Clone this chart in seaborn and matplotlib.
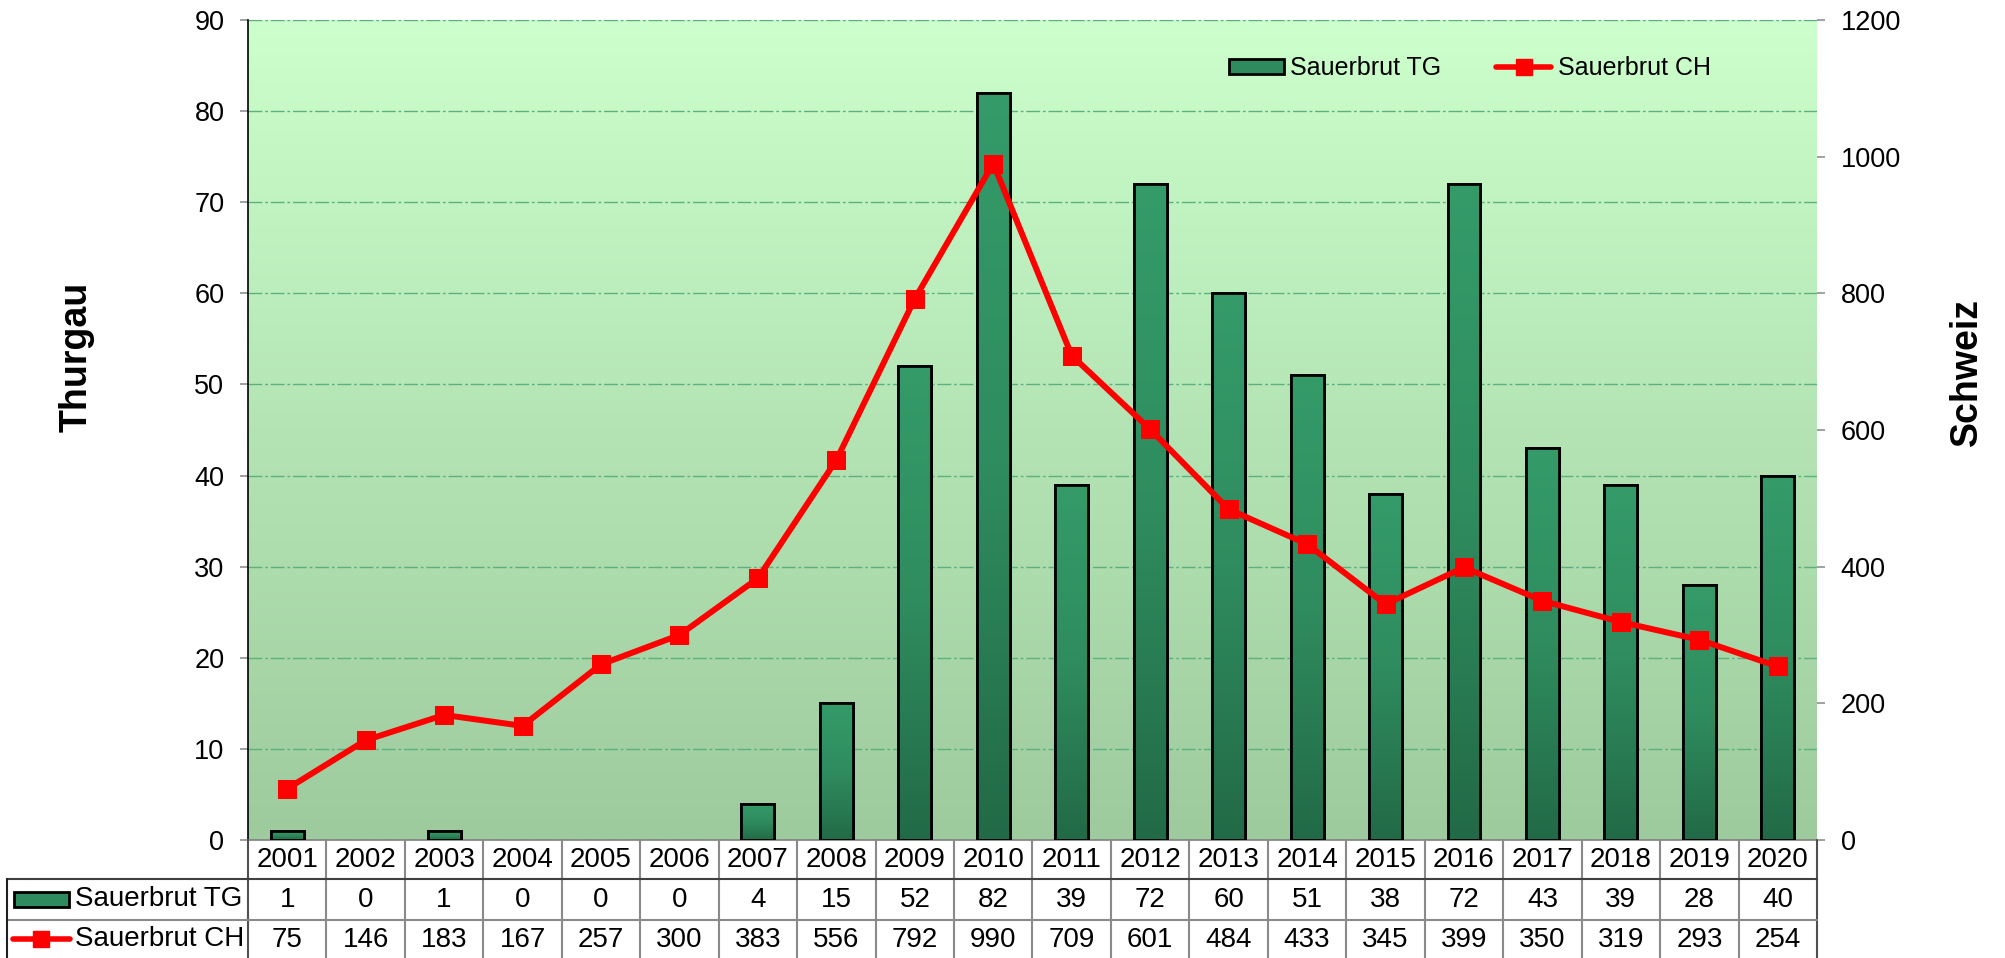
import numpy as np
import pandas as pd
import matplotlib
matplotlib.use("Agg")
import matplotlib.pyplot as plt
import seaborn as sns
from matplotlib.colors import LinearSegmentedColormap
from matplotlib.lines import Line2D
from matplotlib.patches import Patch, Rectangle

# ---------------- data ----------------
years = ["2001", "2002", "2003", "2004", "2005", "2006", "2007", "2008", "2009", "2010",
         "2011", "2012", "2013", "2014", "2015", "2016", "2017", "2018", "2019", "2020"]
tg_values = [1, 0, 1, 0, 0, 0, 4, 15, 52, 82, 39, 72, 60, 51, 38, 72, 43, 39, 28, 40]
ch_values = [75, 146, 183, 167, 257, 300, 383, 556, 792, 990, 709, 601, 484, 433, 345,
             399, 350, 319, 293, 254]
series_tg = "Sauerbrut TG"
series_ch = "Sauerbrut CH"
left_label = "Thurgau"
right_label = "Schweiz"
left_ticks = [0, 10, 20, 30, 40, 50, 60, 70, 80, 90]
right_ticks = [0, 200, 400, 600, 800, 1000, 1200]

# ---------------- style ----------------
sns.set_theme(style="white")
plt.rcParams["font.family"] = ["Liberation Sans", "DejaVu Sans"]
plt.rcParams["text.color"] = "black"
plt.rcParams["axes.labelcolor"] = "black"
plt.rcParams["ytick.color"] = "black"
plt.rcParams["xtick.color"] = "black"
plt.rcParams["legend.labelcolor"] = "black"

W, H = 2006, 958
L, R, T, B = 248, 1817, 20, 840
fig = plt.figure(figsize=(W / 100, H / 100), dpi=100)
fig.patch.set_facecolor("white")
ax = fig.add_axes([L / W, 1 - B / H, (R - L) / W, (B - T) / H])

def fy(py):
    return (B - py) / (B - T)

df = pd.DataFrame({"Jahr": years, "TG": tg_values, "CH": ch_values})
df["pos"] = np.arange(len(years))

# background gradient
grad = np.linspace(0, 1, 256).reshape(-1, 1)
bg_cmap = LinearSegmentedColormap.from_list("bg", ["#9ecb9e", "#b4e4b4", "#ccffcc"])
ax.imshow(grad, cmap=bg_cmap, origin="lower", extent=[0, 1, 0, 1],
          transform=ax.transAxes, aspect="auto", zorder=0, interpolation="bicubic")

# bars
sns.barplot(data=df, x="Jahr", y="TG", ax=ax, color="#339966", width=0.42,
            edgecolor="black", linewidth=2.0, zorder=3)
bar_cmap = LinearSegmentedColormap.from_list("bar", ["#226a47", "#2f8c5e", "#349b69"])
for p in list(ax.patches):
    x0, y0 = p.get_x(), p.get_y()
    w, h = p.get_width(), p.get_height()
    if h <= 0:
        p.set_visible(False)
        continue
    im = ax.imshow(grad, cmap=bar_cmap, origin="lower", extent=[x0, x0 + w, y0, y0 + h],
                   aspect="auto", zorder=3.05, interpolation="bicubic")
    im.set_clip_path(p)
    ax.add_patch(Rectangle((x0, y0), w, h, fill=False, edgecolor="black", lw=2.0, zorder=3.2))

ax.set_xlim(-0.5, len(years) - 0.5)
ax.set_ylim(0, 90)
ax.set_yticks(left_ticks)
ax.set_xticks([])
ax.set_xlabel("")
ax.set_ylabel("")
ax.set_axisbelow(True)
ax.yaxis.grid(True, color="#5fb07f", linestyle=(0, (10, 2, 2, 2)), lw=1.0)
ax.tick_params(axis="y", left=True, length=6, width=1.2, color="#909090", pad=11,
               labelsize=19.5, labelcolor="black")
for s in ["top", "right"]:
    ax.spines[s].set_visible(False)
ax.spines["left"].set_color("black")
ax.spines["left"].set_linewidth(1.2)
ax.spines["bottom"].set_color("#808080")
ax.spines["bottom"].set_linewidth(1.2)

# line on secondary axis
ax2 = ax.twinx()
sns.lineplot(data=df, x="pos", y="CH", ax=ax2, color="#ff0000", lw=4.3, marker="s",
             markersize=13, markeredgecolor="#ff0000", legend=False, zorder=5)
ax2.set_xlim(-0.5, len(years) - 0.5)
ax2.set_ylim(0, 1200)
ax2.set_yticks(right_ticks)
ax2.set_xlabel("")
ax2.set_ylabel("")
ax2.tick_params(axis="y", right=True, length=6, width=1.2, color="#909090", pad=11,
                labelsize=19.5, labelcolor="black")
for s in ax2.spines.values():
    s.set_visible(False)

# axis titles
fig.text(77 / W, 1 - 357 / H, left_label, rotation=90, fontsize=27, fontweight="bold",
         ha="center", va="center", color="black")
fig.text(1967 / W, 1 - 372 / H, right_label, rotation=90, fontsize=27, fontweight="bold",
         ha="center", va="center", color="black")

# legend
handles = [Patch(facecolor="#2e8b5e", edgecolor="black", lw=2, label=series_tg),
           Line2D([], [], color="#ff0000", lw=4, marker="s", markersize=11, label=series_ch)]
fig.legend(handles=handles, loc="center left", bbox_to_anchor=(1229 / W, 1 - 68 / H),
           ncol=2, frameon=False, fontsize=18,
           handlelength=2.2, handleheight=0.55, handletextpad=0.25, columnspacing=2.2,
           borderpad=0, borderaxespad=0)

# ---------------- data table ----------------
tx = ax.get_xaxis_transform()
gray = "#8a8a8a"
n = len(years)
for i in range(n + 1):
    fig.add_artist(Line2D([i - 0.5, i - 0.5], [fy(840), fy(958)], transform=tx,
                          color=gray if 0 < i < n else "#505050", lw=1.5))
fig.add_artist(Line2D([7 / W, R / W], [1 - 879 / H, 1 - 879 / H], transform=fig.transFigure,
                      color="#404040", lw=1.5))
fig.add_artist(Line2D([7 / W, R / W], [1 - 920 / H, 1 - 920 / H], transform=fig.transFigure,
                      color=gray, lw=1.5))
fig.add_artist(Line2D([7 / W, 7 / W], [1 - 879 / H, 0], transform=fig.transFigure,
                      color="#202020", lw=1.5))

for i in range(n):
    fig.text(i, fy(860), years[i], transform=tx, ha="center", va="center", fontsize=20,
             color="black")
    fig.text(i, fy(900), str(tg_values[i]), transform=tx, ha="center", va="center",
             fontsize=20, color="black")
    fig.text(i, fy(940), str(ch_values[i]), transform=tx, ha="center", va="center",
             fontsize=20, color="black")

# row keys
fig.add_artist(Rectangle((14 / W, 1 - 907 / H), 55 / W, 15 / H, transform=fig.transFigure,
                         facecolor="#2e8b5e", edgecolor="black", lw=2))
fig.add_artist(Line2D([13 / W, 41.5 / W, 70 / W], [1 - 939 / H] * 3, transform=fig.transFigure,
                      color="#ff0000", lw=4, marker="s", markersize=12, markevery=[1],
                      markeredgecolor="#ff0000"))
fig.text(75 / W, 1 - 899 / H, series_tg, ha="left", va="center", fontsize=20, color="black")
fig.text(75 / W, 1 - 939 / H, series_ch, ha="left", va="center", fontsize=20, color="black")

fig.savefig("out.png", dpi=100)
